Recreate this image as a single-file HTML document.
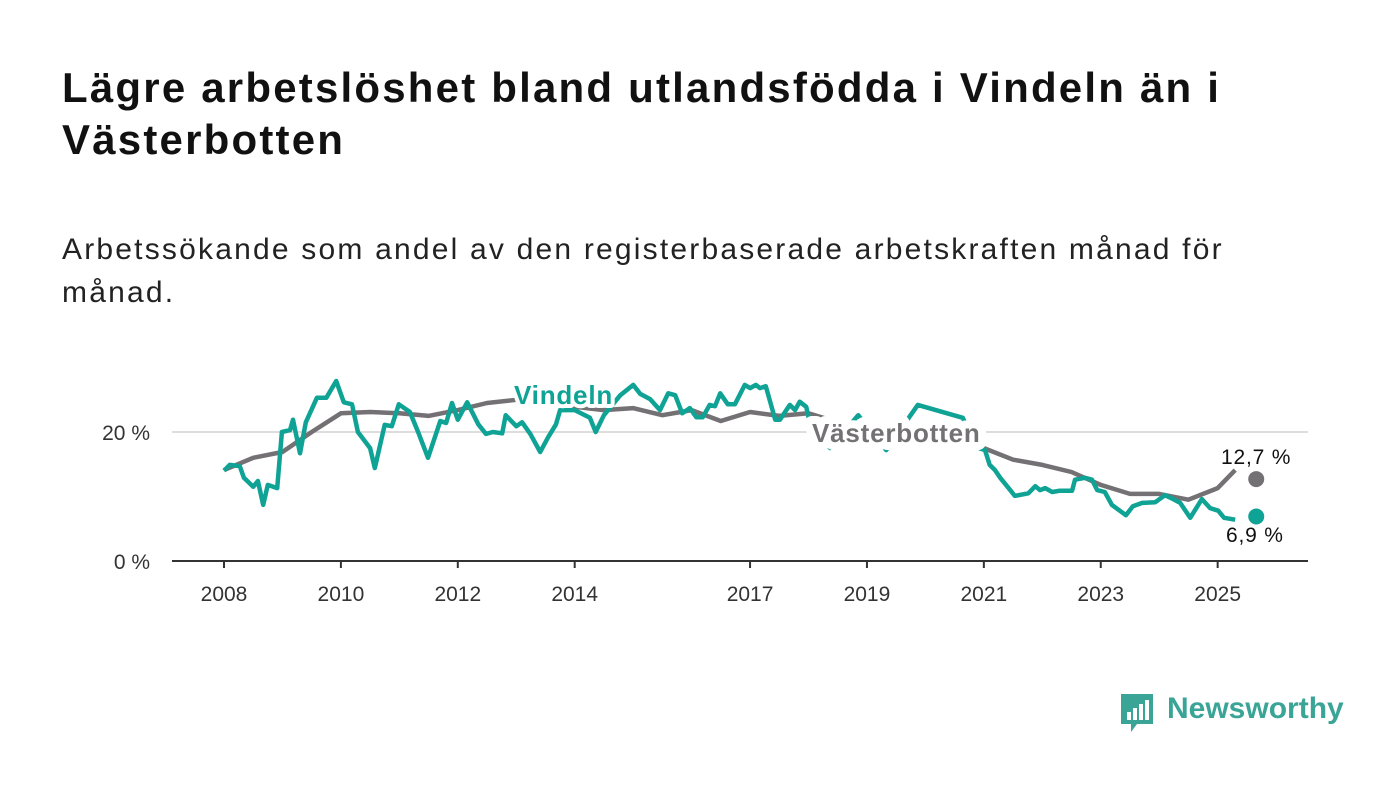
<!DOCTYPE html>
<html><head><meta charset="utf-8">
<style>
body{margin:0;width:1400px;height:794px;background:#fff;overflow:hidden;font-family:"Liberation Sans","DejaVu Sans",sans-serif;}
h1{position:absolute;left:62px;top:62px;margin:0;font-size:42px;line-height:52px;font-weight:bold;color:#111;width:1230px;letter-spacing:2.2px;}
p{position:absolute;left:62px;top:228px;margin:0;font-size:30px;line-height:43px;color:#222;width:1230px;letter-spacing:2.2px;}
svg{position:absolute;left:0;top:0;}
</style></head><body>
<h1>Lägre arbetslöshet bland utlandsfödda i Vindeln än i Västerbotten</h1>
<p>Arbetssökande som andel av den registerbaserade arbetskraften månad för månad.</p>
<svg id="chart" width="1400" height="794"></svg>
<div style="position:absolute;left:1119px;top:690px;height:44px;">
  <svg width="36" height="44" style="position:absolute;left:0;top:2px">
    <path d="M2 2 H34 V32 H18 L12 40 L12 32 H2 Z" fill="#3aa497"/>
    <rect x="8" y="20" width="4" height="8" fill="#fff"/><rect x="14" y="16" width="4" height="12" fill="#fff"/><rect x="20" y="12" width="4" height="16" fill="#fff"/><rect x="26" y="8" width="4" height="20" fill="#fff"/>
  </svg>
  <span style="position:absolute;left:48px;top:2px;font-size:30px;font-weight:bold;color:#3aa497;white-space:nowrap">Newsworthy</span>
</div>
<script>
const xTickYears=[2008,2010,2012,2014,2017,2019,2021,2023,2025];
const yTicks=[0,20];
const vbT=[2008,2008.5,2009,2009.5,2010,2010.5,2011,2011.5,2012,2012.5,2013,2013.5,2014,2014.5,2015,2015.5,2016,2016.5,2017,2017.5,2018,2018.5,2019,2019.5,2020,2020.5,2020.85,2021,2021.5,2022,2022.5,2023,2023.5,2024,2024.5,2025,2025.3,2025.66];
const vbV=[14.1,16,16.9,20,22.9,23.1,22.9,22.5,23.4,24.5,25,24.6,23.9,23.4,23.7,22.6,23.4,21.7,23.1,22.5,22.9,21.5,21,20.5,20,19,17.7,17.5,15.7,14.9,13.8,11.8,10.4,10.4,9.5,11.3,14.1,12.7];
const viT=[2008,2008.10,2008.27,2008.34,2008.50,2008.58,2008.67,2008.75,2008.91,2008.99,2009.13,2009.18,2009.30,2009.40,2009.59,2009.75,2009.92,2010.05,2010.19,2010.29,2010.50,2010.58,2010.75,2010.87,2010.99,2011.18,2011.32,2011.49,2011.70,2011.80,2011.90,2012.00,2012.16,2012.35,2012.48,2012.60,2012.76,2012.82,2013.00,2013.10,2013.24,2013.41,2013.54,2013.68,2013.75,2014.00,2014.26,2014.36,2014.50,2014.78,2015.00,2015.12,2015.29,2015.46,2015.60,2015.72,2015.84,2015.97,2016.08,2016.19,2016.31,2016.40,2016.49,2016.62,2016.74,2016.91,2017.00,2017.10,2017.17,2017.27,2017.43,2017.51,2017.68,2017.77,2017.85,2017.96,2018.03,2018.37,2018.85,2019.33,2019.87,2020.64,2020.85,2021.02,2021.10,2021.19,2021.28,2021.45,2021.53,2021.76,2021.88,2021.96,2022.05,2022.17,2022.30,2022.51,2022.56,2022.73,2022.85,2022.94,2023.07,2023.19,2023.43,2023.55,2023.71,2023.93,2024.10,2024.24,2024.36,2024.53,2024.73,2024.87,2025.01,2025.11,2025.30,2025.66];
const viV=[14,14.9,14.7,12.9,11.5,12.4,8.7,11.8,11.3,20,20.3,21.9,16.7,21.5,25.3,25.3,27.9,24.6,24.3,20,17.5,14.4,21.1,20.9,24.3,23.1,20,16,21.7,21.4,24.5,21.9,24.6,21.2,19.7,20,19.8,22.6,20.9,21.5,19.7,16.9,19.1,21.2,23.4,23.4,22.2,20,22.6,25.7,27.3,25.9,25.1,23.4,26,25.7,22.9,23.7,22.3,22.3,24.2,24,26,24.3,24.3,27.3,26.8,27.3,26.8,27.1,21.9,21.9,24.2,23.4,24.7,23.9,21.1,17.5,22.6,17.2,24.2,22.2,17.7,17.2,14.9,14.1,12.9,11,10.1,10.5,11.6,11,11.3,10.7,10.9,10.9,12.6,12.9,12.6,11,10.7,8.7,7.1,8.5,9,9.1,10.2,9.6,9,6.7,9.6,8.2,7.8,6.7,6.4,6.9];
const NS='http://www.w3.org/2000/svg';
const svg=document.getElementById('chart');
const x=t=>224+(t-2008)*58.45;
const y=v=>561-v*6.45;
function mk(tag,attrs){const e=document.createElementNS(NS,tag);for(const k in attrs)e.setAttribute(k,attrs[k]);svg.appendChild(e);return e;}
yTicks.forEach(v=>{
  if(v>0){const g=mk('line',{x1:172,x2:1308,y1:y(v),y2:y(v),stroke:'#ddd','stroke-width':2});
  
  }
  const t=mk('text',{x:150,y:y(v)+8,'text-anchor':'end','font-size':21,fill:'#333'});t.textContent=v+' %';
  
  
});
const ax=mk('line',{x1:172,x2:1308,y1:561,y2:561,stroke:'#333','stroke-width':2});


xTickYears.forEach(yr=>{
  const tk=mk('line',{x1:x(yr),x2:x(yr),y1:561,y2:568,stroke:'#333','stroke-width':2});
  
  
  const t=mk('text',{x:x(yr),y:601,'text-anchor':'middle','font-size':21,fill:'#333'});t.textContent=yr;
  
  
});
function series(T,V,color,name){
  const n=T.length-1;
  const d=T.slice(0,n).map((t,i)=>(i?'L':'M')+x(t).toFixed(1)+' '+y(V[i]).toFixed(1)).join(' ');
  const p=mk('path',{d:d,fill:'none',stroke:color,'stroke-width':4.5,'stroke-linejoin':'round'});
  
  
  const c=mk('circle',{cx:x(T[n]),cy:y(V[n]),r:8,fill:color});
  
  
  return V[n];
}
const lastVb=series(vbT,vbV,'#747174','vasterbotten');
const lastVi=series(viT,viV,'#0fa395','vindeln');
function label(txt,lx,ly,color,size,weight,name,halo){
  const t=mk('text',{x:lx,y:ly,'font-size':size,'font-weight':weight,fill:color,stroke:'#fff','stroke-width':halo,'paint-order':'stroke','stroke-linejoin':'round','letter-spacing':0.8});
  t.textContent=txt;
  
  
}
label('Vindeln',514,404,'#0fa395',26,'bold','vindeln-label',8);
label('Västerbotten',812,442,'#747174',26,'bold','vasterbotten-label',16);
label(String(lastVb).replace('.',',')+' %',1221,464,'#111',21,'normal','vasterbotten-value-label',6);
label(String(lastVi).replace('.',',')+' %',1226,542,'#111',21,'normal','vindeln-value-label',6);
</script>
</body></html>
